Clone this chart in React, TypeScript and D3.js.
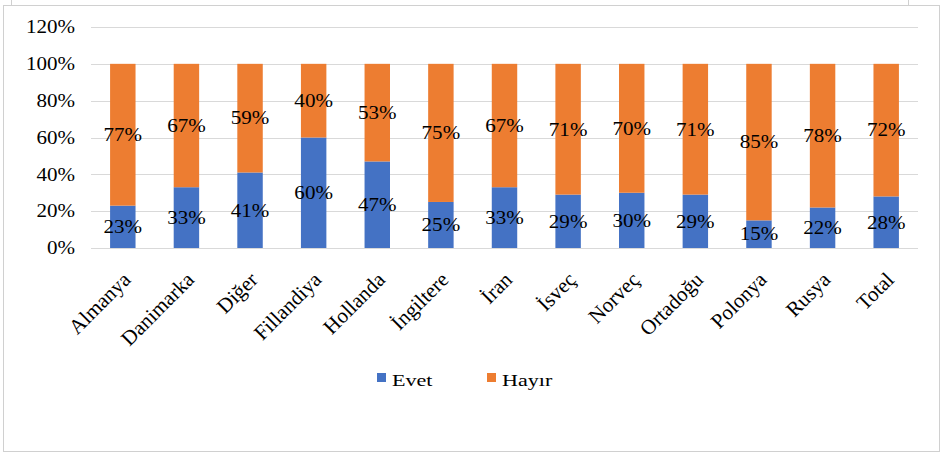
import { useEffect, useRef } from "react";
import * as d3 from "d3";

const categories = [
  "Almanya", "Danimarka", "Diğer", "Fillandiya", "Hollanda", "İngiltere",
  "İran", "İsveç", "Norveç", "Ortadoğu", "Polonya", "Rusya", "Total",
];
const evet = [23, 33, 41, 60, 47, 25, 33, 29, 30, 29, 15, 22, 28];
const hayir = [77, 67, 59, 40, 53, 75, 67, 71, 70, 71, 85, 78, 72];
const seriesNames = ["Evet", "Hayır"];
const seriesColors = ["#4472C4", "#ED7D31"];
const yTicks = [0, 20, 40, 60, 80, 100, 120];

export default function App() {
  const ref = useRef<SVGSVGElement | null>(null);

  useEffect(() => {
    if (!ref.current) return;
    const svg = d3.select(ref.current);
    svg.selectAll("*").remove();

    const width = 945;
    const height = 460;
    const margin = { top: 27, right: 27, bottom: 212, left: 91 };
    const font = "Liberation Serif";
    const sx = 1.17; // the source picture is stretched sideways

    svg.attr("width", width).attr("height", height);

    svg.append("rect").attr("width", width).attr("height", height).attr("fill", "white");

    // chart frame
    svg.append("rect")
      .attr("x", 3.5).attr("y", 5.5)
      .attr("width", 936).attr("height", 446)
      .attr("fill", "none").attr("stroke", "#d0d0d0");
    svg.append("line").attr("x1", 11.5).attr("x2", 11.5).attr("y1", 0).attr("y2", 5)
      .attr("stroke", "#d0d0d0");
    svg.append("line").attr("x1", 908.5).attr("x2", 908.5).attr("y1", 0).attr("y2", 5)
      .attr("stroke", "#d0d0d0");

    const x = d3.scaleBand()
      .domain(categories)
      .range([margin.left, width - margin.right])
      .paddingInner(0.6)
      .paddingOuter(0.3);

    const y = d3.scaleLinear()
      .domain([0, 120])
      .range([height - margin.bottom, margin.top]);

    // gridlines
    svg.append("g")
      .selectAll("line")
      .data(yTicks)
      .enter()
      .append("line")
      .attr("x1", margin.left)
      .attr("x2", width - margin.right)
      .attr("y1", d => Math.round(y(d)) + 0.5)
      .attr("y2", d => Math.round(y(d)) + 0.5)
      .attr("stroke", "#d9d9d9");

    // y tick labels
    svg.append("g")
      .selectAll("text")
      .data(yTicks)
      .enter()
      .append("text")
      .attr("transform", d => `translate(75,${y(d)}) scale(${sx},1)`)
      .attr("dy", "0.35em")
      .attr("text-anchor", "end")
      .attr("font-family", font)
      .attr("font-size", 18)
      .attr("fill", "#000")
      .text(d => `${d}%`);

    const rows = categories.map((c, i) => ({ cat: c, Evet: evet[i], "Hayır": hayir[i] }));
    const stack = d3.stack<any>().keys(seriesNames)(rows);

    const g = svg.append("g");
    stack.forEach((layer, li) => {
      g.append("g")
        .selectAll("rect")
        .data(layer)
        .enter()
        .append("rect")
        .attr("x", d => x(d.data.cat)!)
        .attr("y", d => y(d[1]))
        .attr("width", x.bandwidth())
        .attr("height", d => y(d[0]) - y(d[1]))
        .attr("fill", seriesColors[li]);
    });

    // data labels
    stack.forEach(layer => {
      g.append("g")
        .selectAll("text")
        .data(layer)
        .enter()
        .append("text")
        .attr("transform", d =>
          `translate(${x(d.data.cat)! + x.bandwidth() / 2},${y((d[0] + d[1]) / 2)}) scale(${sx},1)`)
        .attr("dy", "0.35em")
        .attr("text-anchor", "middle")
        .attr("font-family", font)
        .attr("font-size", 18)
        .attr("fill", "#000")
        .text(d => `${d[1] - d[0]}%`);
    });

    // x category labels
    svg.append("g")
      .selectAll("text")
      .data(categories)
      .enter()
      .append("text")
      .attr("transform", d => `translate(${x(d)! + x.bandwidth() / 2 + 9},${height - margin.bottom + 33}) rotate(-45)`)
      .attr("text-anchor", "end")
      .attr("font-family", font)
      .attr("font-size", 21)
      .attr("fill", "#000")
      .text(d => d);

    // legend
    const legendX = [377, 487];
    const legend = svg.append("g");
    seriesNames.forEach((name, i) => {
      legend.append("rect")
        .attr("x", legendX[i])
        .attr("y", 373)
        .attr("width", 9)
        .attr("height", 9)
        .attr("fill", seriesColors[i]);
      legend.append("text")
        .attr("transform", `translate(${legendX[i] + 15},386) scale(1.3,1)`)
        .attr("font-family", font)
        .attr("font-size", 17)
        .attr("fill", "#000")
        .text(name);
    });
  }, []);

  return (
    <div style={{ position: "absolute", left: 0, top: 0 }}>
      <svg ref={ref} style={{ display: "block" }} />
    </div>
  );
}
